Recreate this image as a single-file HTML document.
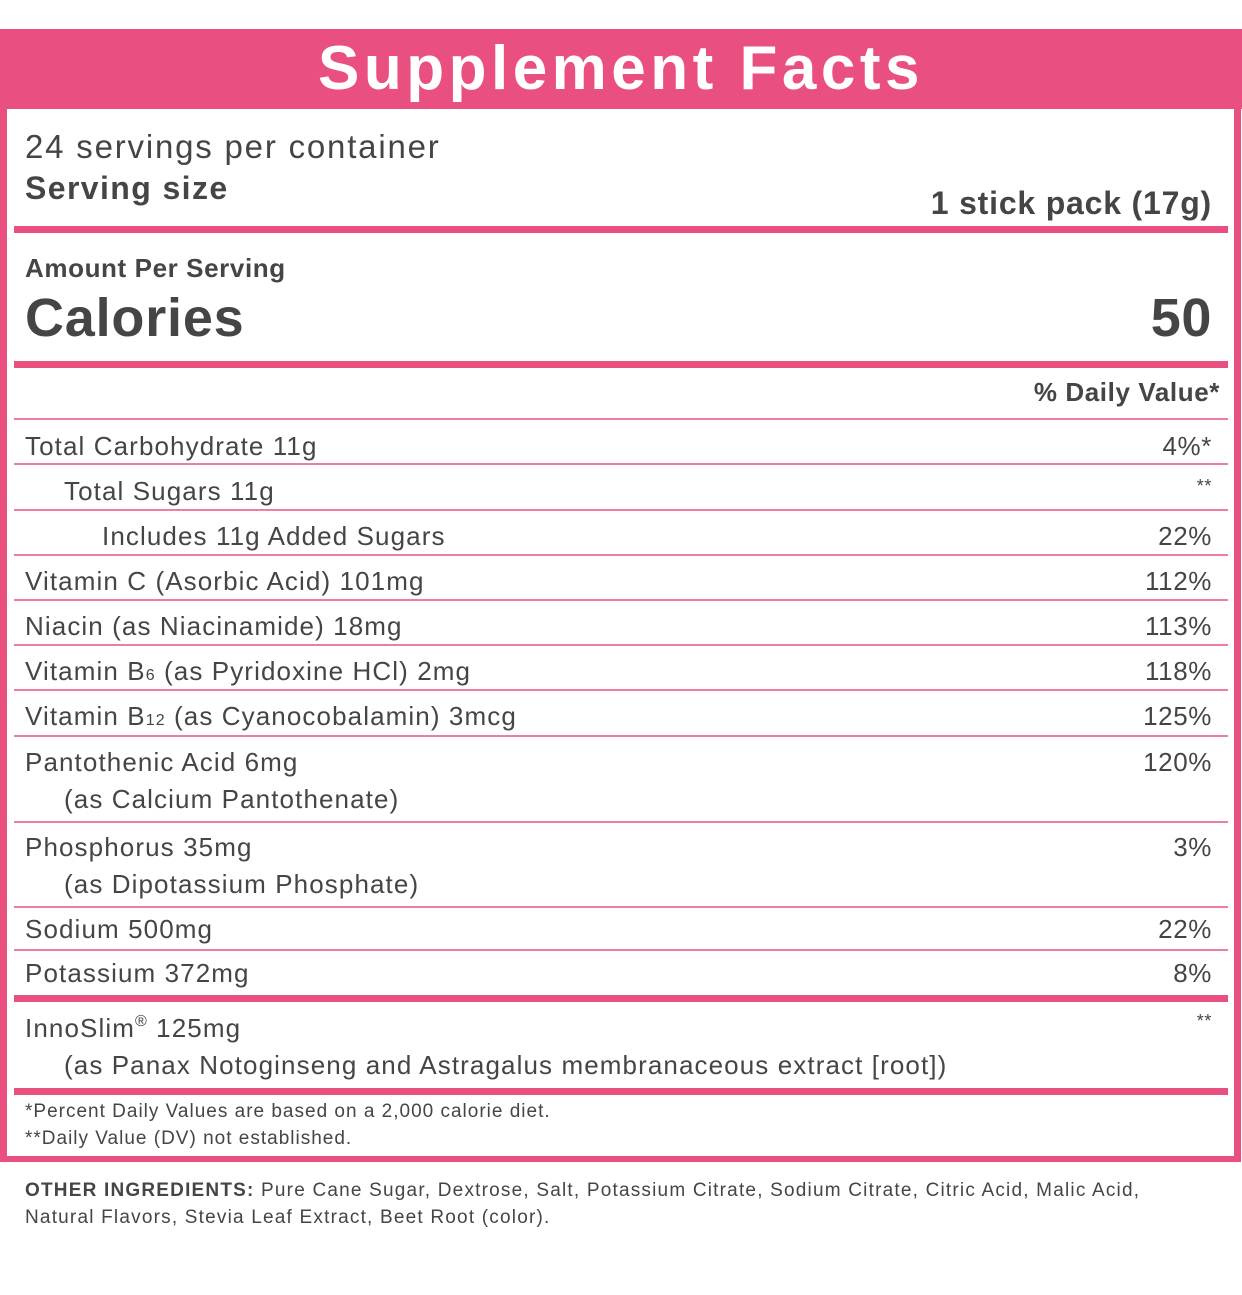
<!DOCTYPE html>
<html><head><style>
body{margin:0;width:1242px;height:1295px;background:#fff;position:relative;font-family:"Liberation Sans",sans-serif;color:#454545;overflow:hidden}
div{position:absolute}
.p{background:#e94f7f}
.t{left:14px;width:1214px;height:2px;background:#ec7ea0}
.k{left:14px;width:1214px;height:7px;background:#e94f7f}
.l{left:25px;font-size:26px;white-space:nowrap;letter-spacing:1.1px}
.r{right:30px;font-size:26px;white-space:nowrap;text-align:right;letter-spacing:0.6px}
</style></head><body>
<div class="p" style="left:0;top:29px;width:1242px;height:80px"></div>
<div style="left:0;top:33px;width:1242px;text-align:center;color:#fff;font-weight:bold;font-size:62px;letter-spacing:4.5px">Supplement Facts</div>
<div class="p" style="left:0;top:29px;width:7px;height:1133px"></div>
<div class="p" style="left:1234px;top:29px;width:7px;height:1133px"></div>
<div class="p" style="left:0;top:1156px;width:1241px;height:6px"></div>

<div class="l" style="top:128px;font-size:33px;letter-spacing:1.8px">24 servings per container</div>
<div class="l" style="top:170px;font-size:32px;font-weight:bold;letter-spacing:1.4px">Serving size</div>
<div class="r" style="top:185px;font-size:32px;font-weight:bold;letter-spacing:0.8px">1 stick pack (17g)</div>
<div class="k" style="top:226px"></div>
<div class="l" style="top:253px;font-weight:bold;font-size:26px;letter-spacing:0.6px">Amount Per Serving</div>
<div class="l" style="top:287px;font-weight:bold;font-size:54px;letter-spacing:0.8px">Calories</div>
<div class="r" style="top:287px;font-weight:bold;font-size:54px">50</div>
<div class="k" style="top:361px"></div>
<div class="r" style="top:377px;right:22px;font-weight:bold">% Daily Value*</div>
<div class="t" style="top:418px"></div>
<div class="l" style="top:431px">Total Carbohydrate 11g</div><div class="r" style="top:431px">4%*</div>
<div class="t" style="top:463px"></div>
<div class="l" style="top:476px;left:64px">Total Sugars 11g</div><div class="r" style="top:476px;font-size:18px">**</div>
<div class="t" style="top:509px"></div>
<div class="l" style="top:521px;left:102px">Includes 11g Added Sugars</div><div class="r" style="top:521px">22%</div>
<div class="t" style="top:554px"></div>
<div class="l" style="top:566px">Vitamin C (Asorbic Acid) 101mg</div><div class="r" style="top:566px">112%</div>
<div class="t" style="top:599px"></div>
<div class="l" style="top:611px">Niacin (as Niacinamide) 18mg</div><div class="r" style="top:611px">113%</div>
<div class="t" style="top:644px"></div>
<div class="l" style="top:656px">Vitamin B<span style="font-size:16px">6</span> (as Pyridoxine HCl) 2mg</div><div class="r" style="top:656px">118%</div>
<div class="t" style="top:689px"></div>
<div class="l" style="top:701px">Vitamin B<span style="font-size:16px">12</span> (as Cyanocobalamin) 3mcg</div><div class="r" style="top:701px">125%</div>
<div class="t" style="top:735px"></div>
<div class="l" style="top:747px">Pantothenic Acid 6mg</div><div class="r" style="top:747px">120%</div>
<div class="l" style="top:784px;left:64px">(as Calcium Pantothenate)</div>
<div class="t" style="top:821px"></div>
<div class="l" style="top:832px">Phosphorus 35mg</div><div class="r" style="top:832px">3%</div>
<div class="l" style="top:869px;left:64px">(as Dipotassium Phosphate)</div>
<div class="t" style="top:906px"></div>
<div class="l" style="top:914px">Sodium 500mg</div><div class="r" style="top:914px">22%</div>
<div class="t" style="top:949px"></div>
<div class="l" style="top:958px">Potassium 372mg</div><div class="r" style="top:958px">8%</div>
<div class="k" style="top:995px"></div>
<div class="l" style="top:1013px">InnoSlim<span style="font-size:16px;vertical-align:top">®</span> 125mg</div><div class="r" style="top:1011px;font-size:18px">**</div>
<div class="l" style="top:1050px;left:64px">(as Panax Notoginseng and Astragalus membranaceous extract [root])</div>
<div class="k" style="top:1088px"></div>
<div class="l" style="top:1101px;font-size:19px;letter-spacing:1px">*Percent Daily Values are based on a 2,000 calorie diet.</div>
<div class="l" style="top:1128px;font-size:19px;letter-spacing:1px">**Daily Value (DV) not established.</div>
<div class="l" style="top:1180px;font-size:19px;letter-spacing:1.2px"><b>OTHER INGREDIENTS:</b> Pure Cane Sugar, Dextrose, Salt, Potassium Citrate, Sodium Citrate, Citric Acid, Malic Acid,</div>
<div class="l" style="top:1207px;font-size:19px;letter-spacing:1.2px">Natural Flavors, Stevia Leaf Extract, Beet Root (color).</div>
</body></html>
